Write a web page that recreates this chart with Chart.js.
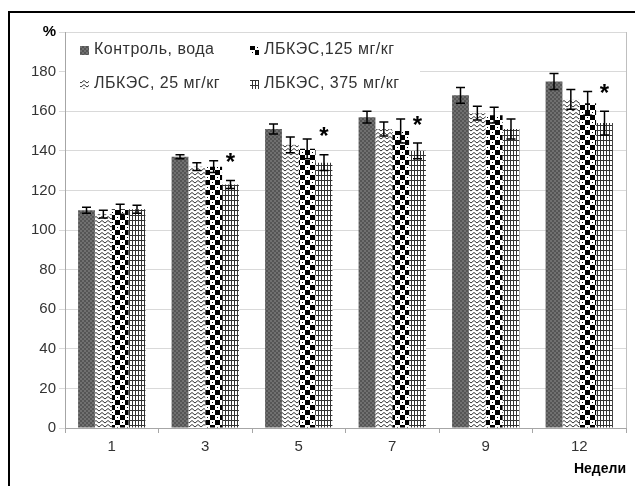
<!DOCTYPE html>
<html>
<head>
<meta charset="utf-8">
<script src="https://cdn.jsdelivr.net/npm/chart.js@4.4.1/dist/chart.umd.min.js"></script>
<style>
  html, body { margin: 0; padding: 0; background: #fff; }
</style>
</head>
<body>
<canvas id="chart" width="635" height="486"></canvas>
<script>
// === DATA ===
const weeks = ["1", "3", "5", "7", "9", "12"];
const seriesNames = ["Контроль, вода", "ЛБКЭС, 25 мг/кг", "ЛБКЭС,125 мг/кг", "ЛБКЭС, 375 мг/кг"];

const control = [110, 137, 151, 157, 168, 175];
const lb25 = [108, 132, 143, 151, 159, 166];
const lb125 = [110.5, 132, 141, 150, 158, 164];
const lb375 = [110.5, 123, 134, 140, 151, 154];

const errControl = [1.5, 1, 2.5, 3, 4, 4];
const err25 = [2, 2, 4, 3.5, 3.5, 5];
const err125 = [2.5, 3, 5, 6, 4, 6];
const err375 = [2, 2, 4, 4, 5, 6];

// significance marks (*) over the 375 mg/kg bars
const stars375 = [false, true, true, true, false, true];

const yTicks = [0, 20, 40, 60, 80, 100, 120, 140, 160, 180, 200];

const canvas = document.getElementById("chart");
const mainCtx = canvas.getContext("2d");

// === PATTERNS ===
function makePattern(w, h, draw) {
    const c = document.createElement("canvas");
    c.width = w;
    c.height = h;
    draw(c.getContext("2d"));
    return mainCtx.createPattern(c, "repeat");
}

const patControl = makePattern(4, 4, g => {
    g.fillStyle = "#707070";
    g.fillRect(0, 0, 4, 4);
    g.fillStyle = "#555";
    g.fillRect(0, 0, 2, 2);
    g.fillRect(2, 2, 2, 2);
});

const patWave = makePattern(6, 4, g => {
    g.fillStyle = "#fff";
    g.fillRect(0, 0, 6, 4);
    g.strokeStyle = "#333";
    g.lineWidth = 1;
    g.beginPath();
    g.moveTo(0, 0.5);
    g.lineTo(3, 3);
    g.lineTo(6, 0.5);
    g.stroke();
});

const patChecker = makePattern(10, 10, g => {
    g.fillStyle = "#fff";
    g.fillRect(0, 0, 10, 10);
    g.fillStyle = "#000";
    g.fillRect(5, 0, 5, 5);
    g.fillRect(0, 5, 5, 5);
    g.fillRect(2, 2, 1, 1);
    g.fillRect(7, 7, 1, 1);
});

const patPlaid = makePattern(6, 5, g => {
    g.fillStyle = "#fff";
    g.fillRect(0, 0, 6, 5);
    g.fillStyle = "#333";
    g.fillRect(0, 0, 1, 5);
    g.fillRect(3, 0, 1, 5);
    g.fillRect(0, 0, 6, 1);
});

const patterns = [patControl, patWave, patChecker, patPlaid];

// === PLUGINS ===
const frame = {
    id: "frame",
    beforeDraw(chart) {
        const ctx = chart.ctx;
        ctx.save();
        ctx.fillStyle = "#000";
        ctx.fillRect(8, 11, 2, 486);
        ctx.fillRect(8, 11, 635, 2);
        ctx.restore();
    },
    afterDatasetsDraw(chart) {
        // right border of the plot area
        const ctx = chart.ctx, a = chart.chartArea;
        ctx.save();
        ctx.strokeStyle = "#bfbfbf";
        ctx.lineWidth = 1;
        ctx.beginPath();
        ctx.moveTo(Math.round(a.right) + 0.5, a.top);
        ctx.lineTo(Math.round(a.right) + 0.5, a.bottom);
        ctx.stroke();
        ctx.restore();
    }
};

const errorBars = {
    id: "errorBars",
    afterDatasetsDraw(chart) {
        const ctx = chart.ctx;
        const y = chart.scales.y;
        ctx.save();
        ctx.strokeStyle = "#000";
        ctx.lineWidth = 1.5;
        chart.data.datasets.forEach((ds, i) => {
            const meta = chart.getDatasetMeta(i);
            meta.data.forEach((bar, j) => {
                const v = ds.data[j], e = ds.errors[j];
                const top = y.getPixelForValue(v + e);
                const bot = y.getPixelForValue(v - e);
                const x = bar.x;
                ctx.beginPath();
                ctx.moveTo(x, top);
                ctx.lineTo(x, bot);
                ctx.moveTo(x - 4.5, top);
                ctx.lineTo(x + 4.5, top);
                ctx.moveTo(x - 4.5, bot);
                ctx.lineTo(x + 4.5, bot);
                ctx.stroke();
                if (i === 3 && stars375[j]) {
                    ctx.fillStyle = "#000";
                    ctx.font = "bold 24px 'Liberation Sans'";
                    ctx.textAlign = "center";
                    ctx.textBaseline = "middle";
                    ctx.fillText("*", x, top - 17);
                }
            });
        });
        ctx.restore();
    }
};

const legendBox = {
    id: "legendBox",
    afterDraw(chart) {
        const ctx = chart.ctx;
        ctx.save();
        ctx.fillStyle = "#fff";
        ctx.fillRect(66, 34, 354, 66);
        const items = [
            { i: 0, x: 80, y: 50 },
            { i: 2, x: 250, y: 50 },
            { i: 1, x: 80, y: 84 },
            { i: 3, x: 250, y: 84 }
        ];
        ctx.font = "16px 'Liberation Sans'";
        ctx.letterSpacing = "0.5px";
        ctx.textBaseline = "middle";
        ctx.textAlign = "left";
        items.forEach(it => {
            ctx.fillStyle = patterns[it.i];
            ctx.fillRect(it.x, it.y - 4, 9, 9);
            ctx.fillStyle = "#333";
            ctx.fillText(seriesNames[it.i], it.x + 14, it.y);
        });
        ctx.restore();
    }
};

// === CHART ===
const allValues = [control, lb25, lb125, lb375];
const allErrors = [errControl, err25, err125, err375];

new Chart(canvas, {
    type: "bar",
    data: {
        labels: weeks,
        datasets: allValues.map((vals, i) => ({
            label: seriesNames[i],
            data: vals,
            errors: allErrors[i],
            backgroundColor: patterns[i],
            borderWidth: 0,
            categoryPercentage: 0.72,
            barPercentage: 1
        }))
    },
    options: {
        responsive: false,
        animation: false,
        layout: { padding: { top: 32, right: 9, left: 0, bottom: 0 } },
        plugins: {
            legend: { display: false },
            tooltip: { enabled: false }
        },
        scales: {
            x: {
                grid: { drawOnChartArea: false, tickLength: 5, color: "#a6a6a6" },
                border: { color: "#a6a6a6" },
                ticks: { color: "#333", font: { family: "Liberation Sans", size: 15 }, padding: 5 },
                title: {
                    display: true,
                    text: "Недели",
                    align: "end",
                    color: "#000",
                    font: { family: "Liberation Sans", size: 14, weight: "bold" },
                    padding: { top: 0, bottom: 8 }
                },
                afterFit(scale) { scale.height = 58; }
            },
            y: {
                min: 0,
                max: 200,
                afterBuildTicks(scale) {
                    scale.ticks = yTicks.map(v => ({ value: v }));
                },
                grid: { color: "#d9d9d9", tickLength: 6 },
                border: { color: "#a6a6a6" },
                ticks: {
                    color: c => (c.tick && c.tick.value === 200 ? "#000" : "#333"),
                    font: c => ({
                        family: "Liberation Sans",
                        size: 15,
                        weight: c.tick && c.tick.value === 200 ? "bold" : "normal"
                    }),
                    padding: 3,
                    callback: v => (v === 200 ? "%" : v)
                },
                afterFit(scale) { scale.width = 65; }
            }
        }
    },
    plugins: [frame, errorBars, legendBox]
});
</script>
</body>
</html>
